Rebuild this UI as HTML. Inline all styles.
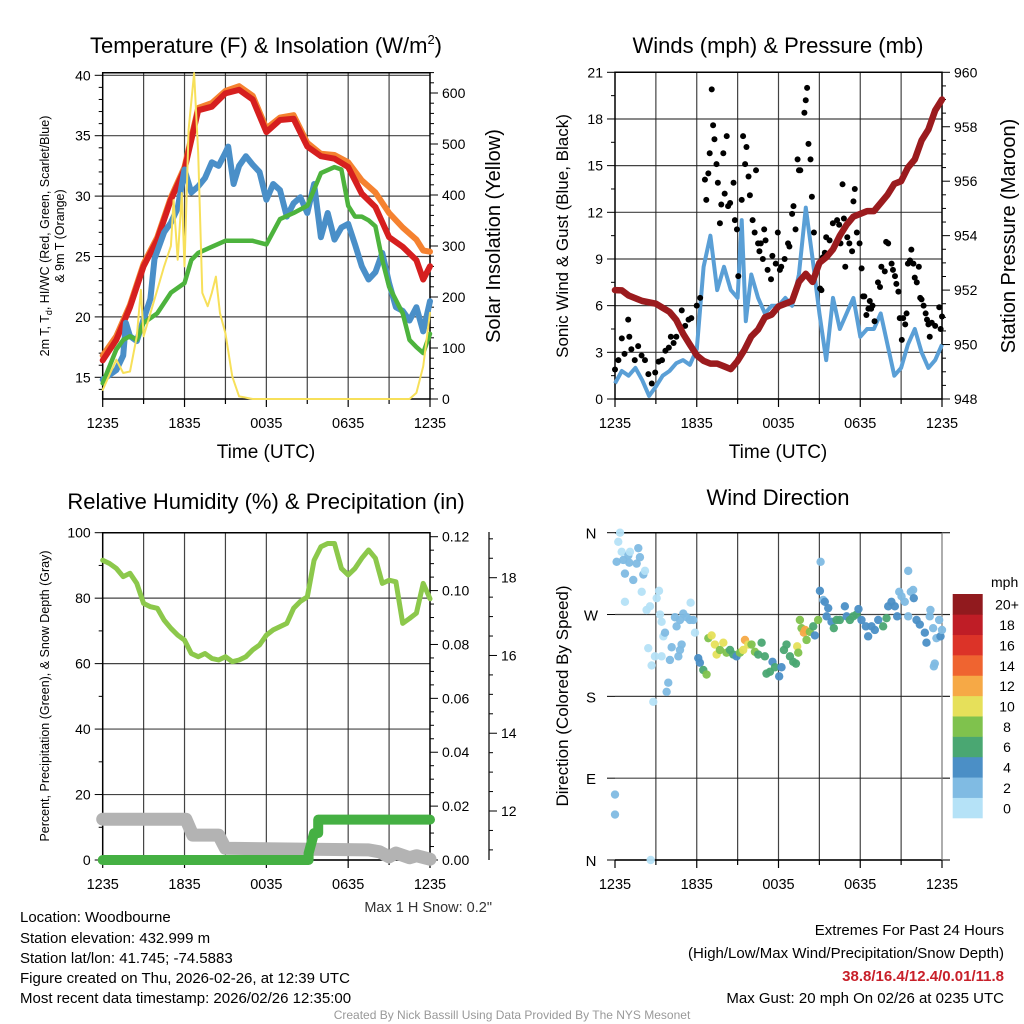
<!DOCTYPE html>
<html><head><meta charset="utf-8"><style>
html,body{margin:0;padding:0;background:#fff;}
svg{display:block;font-family:"Liberation Sans",Arial,sans-serif;}
</style></head><body>
<svg id="chart" width="1024" height="1024" viewBox="0 0 1024 1024" xmlns="http://www.w3.org/2000/svg">
<rect x="0" y="0" width="1024" height="1024" fill="#fff"/>
<text x="266" y="53" font-size="22" text-anchor="middle">Temperature (F) &amp; Insolation (W/m<tspan font-size="13" dy="-9">2</tspan><tspan dy="9">)</tspan></text>
<text x="778" y="53" font-size="22" text-anchor="middle">Winds (mph) &amp; Pressure (mb)</text>
<text x="266" y="509" font-size="22" text-anchor="middle">Relative Humidity (%) &amp; Precipitation (in)</text>
<text x="778" y="505" font-size="22" text-anchor="middle">Wind Direction</text>
<text transform="translate(49,236) rotate(-90)" font-size="12.5" text-anchor="middle">2m T, T<tspan font-size="9" dy="3">d</tspan><tspan dy="-3">, HI/WC (Red, Green, Scarlet/Blue)</tspan></text>
<text transform="translate(64,236) rotate(-90)" font-size="12.5" text-anchor="middle">&amp; 9m T (Orange)</text>
<text transform="translate(500,236) rotate(-90)" font-size="20" text-anchor="middle">Solar Insolation (Yellow)</text>
<text x="266" y="458" font-size="19" text-anchor="middle">Time (UTC)</text>
<text transform="translate(568,236) rotate(-90)" font-size="17" text-anchor="middle">Sonic Wind &amp; Gust (Blue, Black)</text>
<text transform="translate(1015,236) rotate(-90)" font-size="20" text-anchor="middle">Station Pressure (Maroon)</text>
<text x="778" y="458" font-size="19" text-anchor="middle">Time (UTC)</text>
<text transform="translate(49,696) rotate(-90)" font-size="12.5" text-anchor="middle">Percent, Precipitation (Green), &amp; Snow Depth (Gray)</text>
<text transform="translate(568,696) rotate(-90)" font-size="17" text-anchor="middle">Direction (Colored By Speed)</text>
<text x="492" y="912" font-size="14.5" text-anchor="end" fill="#333">Max 1 H Snow: 0.2"</text>
<g font-size="15">
<text x="20" y="922">Location: Woodbourne</text>
<text x="20" y="943">Station elevation: 432.999 m</text>
<text x="20" y="963">Station lat/lon: 41.745; -74.5883</text>
<text x="20" y="983">Figure created on Thu, 2026-02-26, at 12:39 UTC</text>
<text x="20" y="1003">Most recent data timestamp: 2026/02/26 12:35:00</text>
</g>
<g font-size="15" text-anchor="end">
<text x="1004" y="935">Extremes For Past 24 Hours</text>
<text x="1004" y="958">(High/Low/Max Wind/Precipitation/Snow Depth)</text>
<text x="1004" y="981" fill="#c8202a" font-weight="bold">38.8/16.4/12.4/0.01/11.8</text>
<text x="1004" y="1003">Max Gust: 20 mph On 02/26 at 0235 UTC</text>
</g>
<text x="512" y="1019" font-size="12" fill="#999" text-anchor="middle">Created By Nick Bassill Using Data Provided By The NYS Mesonet</text>
</svg>
<script>
// ---------- DATA ----------
const xTickLabels = ["1235","1835","0035","0635","1235"];
const tempHours = [0,1,2,3,4,5,6,7,8,9,10,11,12,13,14,15,16,17,18,19,20,21,22,23,23.5,24];
const redTemp = [16.4,18.1,20.8,24.2,26.4,29.7,32.2,37.1,37.4,38.5,38.8,38.0,35.3,36.3,36.4,34.1,33.3,33.1,32.4,30.2,29.1,26.6,25.8,24.7,23.1,24.2];
const orangeTemp = [16.8,18.4,21.0,24.4,26.6,29.9,32.4,37.3,37.7,38.7,39.1,38.3,35.6,36.5,36.7,34.4,33.5,33.4,32.8,31.3,30.3,28.6,27.4,26.4,25.5,25.4];
const blueHours = [0,0.5,1,1.5,1.7,2,2.5,3,3.5,3.8,4.5,5,5.5,6,6.5,7,7.5,8,8.5,9,9.2,9.6,10,10.5,11,11.5,12,12.5,13,13.5,14,14.5,15,15.5,16,16.5,17,17.5,18,18.5,19,19.5,20,20.5,21,21.5,22,22.5,23,23.5,24];
const blueTemp = [14.8,15.2,15.6,16.8,19.5,18.4,18.0,19.8,21.5,24.8,27.0,27.8,29.0,32.2,30.3,30.8,31.5,32.8,32.5,33.6,34.1,31.0,32.5,33.3,32.6,32.0,29.7,31.0,30.5,28.3,29.4,29.9,28.6,31.0,26.6,28.6,26.4,27.4,27.7,26.0,24.2,23.1,23.7,25.3,22.8,20.8,20.5,19.7,20.8,18.8,21.3];
const greenHours = [0,1,1.5,2,2.5,3,4,5,6,6.5,7,8,9,10,11,12,13,14,15,16,17,17.5,18,18.5,19,19.5,20,20.5,21,22,22.5,23,23.5,24];
const greenTemp = [14.5,17.3,18.1,18.4,18.1,19.5,20.3,22.0,22.8,24.7,25.3,25.8,26.3,26.3,26.3,26.0,28.1,28.6,29.2,31.9,32.4,32.2,29.2,28.3,28.3,28.0,27.5,24.7,22.5,20.3,18.1,17.5,17.0,18.6];
const solarHours = [0,1,1.5,2,2.5,2.8,3,3.5,4,4.5,5,5.2,5.5,5.8,6,6.3,6.7,7,7.3,7.7,8,8.3,8.6,9,9.5,10,11,22.5,23,23.5,24];
const solarVals = [18,77,51,54,123,214,123,168,214,260,300,390,273,404,260,528,639,482,208,182,208,240,168,129,44,5,0,0,12,64,169];
const windHours = [0,0.5,1,1.5,2,2.5,3,3.5,4,4.5,5,5.5,6,6.5,7,7.5,8,8.5,9,9.3,9.6,10,10.5,11,11.5,12,12.5,13,13.5,14,14.5,15,15.5,16,16.5,17,17.5,18,18.5,19,19.5,20,20.5,21,21.5,22,22.5,23,23.5,24];
const windVals = [1.0,1.8,1.5,2.0,1.2,0.2,0.8,1.5,1.8,2.3,2.5,2.2,3.2,8.5,10.5,7.0,8.5,7.0,6.5,11.5,5.0,8.0,6.5,5.5,6.0,6.0,6.5,6.0,8.0,12.3,9.0,5.5,2.5,6.5,4.5,5.5,6.5,4.0,4.5,4.5,5.5,3.5,1.5,2.0,3.5,4.5,3.0,2.0,2.5,3.5];
const gustHours = [0,0.25,0.5,0.7,0.97,1.05,1.2,1.45,1.7,1.95,2.2,2.45,2.7,2.95,3.2,3.45,3.7,3.95,4.1,4.3,4.5,4.9,5.15,5.4,5.6,6.0,6.25,6.6,6.7,6.85,6.95,7.1,7.2,7.3,7.45,7.55,7.7,7.8,7.95,8.05,8.2,8.3,8.45,8.7,8.8,8.95,9.05,9.3,9.4,9.55,9.65,9.8,9.9,10.1,10.25,10.35,10.5,10.6,10.7,10.85,10.95,11.05,11.2,11.45,11.55,11.8,11.95,12.1,12.2,12.45,12.7,12.8,13.0,13.1,13.25,13.4,13.5,13.6,13.9,14.0,14.1,14.2,14.35,14.45,14.6,14.8,15.05,15.15,15.25,15.4,15.5,15.75,15.99,16.2,16.3,16.45,16.55,16.7,16.8,16.9,17.05,17.2,17.4,17.5,17.6,17.75,17.95,18.1,18.2,18.3,18.45,18.6,18.7,18.8,18.9,19.05,19.3,19.45,19.55,19.8,19.9,20.05,20.3,20.4,20.55,20.65,20.8,20.9,21.05,21.15,21.3,21.4,21.5,21.65,21.75,21.9,22.0,22.15,22.3,22.4,22.5,22.65,22.8,22.9,23.0,23.1,23.25,23.5,23.8,23.9,24.0];
const gustVals = [1.9,2.5,3.9,2.9,5.1,4.0,3.2,2.5,3.4,2.8,2.5,1.6,1.0,1.7,2.4,2.5,3.1,3.3,4.0,3.6,4.0,5.7,4.7,5.1,5.2,6.0,6.5,14.1,12.8,14.5,15.8,19.9,17.6,16.7,15.1,13.9,11.3,12.5,15.8,13.2,16.9,12.4,12.6,13.9,11.5,10.9,7.9,12.8,16.9,15.1,16.2,14.3,13.1,11.5,10.7,14.7,10.0,9.5,10.0,9.0,10.9,10.2,8.3,7.7,9.2,8.7,10.7,8.3,8.5,9.0,10.0,9.8,11.9,12.4,10.9,15.4,14.7,14.7,18.4,19.2,20.0,16.4,15.4,13.0,10.7,8.3,7.1,7.0,9.1,9.4,10.4,10.2,11.3,10.0,11.5,11.2,10.0,13.8,11.6,8.5,10.4,10.0,9.5,12.7,13.5,10.7,10.0,8.4,6.6,6.6,5.4,5.8,6.3,5.8,6.0,5.0,7.5,7.2,8.5,8.2,10.1,10.0,8.7,8.3,7.9,7.4,6.9,5.2,3.8,5.2,4.8,5.5,8.7,8.9,9.6,8.7,7.8,7.5,8.5,6.5,6.4,6.0,5.5,5.1,4.8,4.0,4.9,4.7,5.9,4.5,5.3];
const pressHours = [0,0.5,1,1.5,2,3,3.5,4,4.5,5,5.5,6,6.5,7,7.5,8,8.5,9,9.5,10,10.5,11,11.5,12,12.5,13,13.5,14,14.5,15,15.5,16,16.5,17,17.5,18,18.5,19,19.5,20,20.5,21,21.5,22,22.5,23,23.5,24];
const pressVals = [952.0,951.99,951.8,951.7,951.6,951.5,951.35,951.2,950.9,950.4,950.0,949.6,949.4,949.3,949.3,949.2,949.1,949.4,949.8,950.3,950.55,951.0,951.1,951.4,951.5,951.6,952.3,952.6,952.3,953.0,953.2,953.5,954.0,954.4,954.7,954.8,954.9,954.9,955.2,955.5,955.9,956.0,956.5,956.8,957.5,957.9,958.6,959.0];
const rhHours = [0,0.5,1,1.5,2,2.5,3,3.5,4,4.5,5,5.5,6,6.5,7,7.5,8,8.5,9,9.5,10,10.5,11,11.5,12,12.5,13,13.5,14,14.5,15,15.5,16,16.5,17,17.5,18,18.5,19,19.5,20,20.5,21,21.5,22,22.5,23,23.5,24];
const rhVals = [91.6,90.6,89.1,86.6,87.6,84.5,78.4,77.4,76.9,73.3,70.8,68.7,67.2,63.1,62.1,63.1,61.6,61.1,62.1,60.6,61.1,62.1,64.2,65.7,68.7,70.3,71.3,72.3,76.9,79.0,80.4,91.6,95.7,96.7,96.7,89.1,87.1,89.1,92.2,94.7,92.2,84.5,85.5,85.0,72.3,73.8,75.4,84.5,79.8];
const precipHours = [0,15.1,15.1,15.5,15.8,15.8,24];
const precipVals = [0,0,0.0025,0.01,0.01,0.015,0.015];
const snowHours = [0,6.1,6.6,8.5,9.0,19.5,20.3,21.0,21.5,22.5,23.0,24];
const snowVals = [11.79,11.79,11.38,11.38,11.04,11.0,10.95,10.82,10.92,10.8,10.85,10.76];
const dirHours = [0.37,0.24,0.12,0.49,0.61,0.98,1.05,0.73,1.1,1.34,1.71,1.59,1.83,2.08,2.2,1.96,0.73,2.32,2.57,3.06,3.23,3.3,3.42,3.55,3.67,2.44,2.69,2.93,3.42,4.03,4.16,3.91,3.79,2.81,0,0,2.62,4.4,4.52,4.77,4.89,4.77,4.65,5.01,5.26,5.5,5.75,5.55,5.87,6.11,6.23,6.48,6.72,6.85,7.09,7.33,7.46,7.7,7.95,8.19,8.44,8.68,8.92,9.17,9.41,9.54,9.78,10.02,10.27,10.51,10.76,11.0,11.12,11.37,11.56,11.74,12.05,12.22,12.4,12.59,12.84,13.08,13.28,13.37,13.45,13.57,13.69,13.86,13.96,14.06,14.3,14.55,14.67,14.91,15.09,15.04,15.28,15.4,15.65,15.53,15.89,16.06,16.26,16.5,16.87,17.0,17.24,17.48,17.73,17.87,18.09,18.41,18.58,18.83,19.07,19.32,19.68,19.93,20.05,20.29,20.54,20.71,20.86,21.03,21.27,21.52,21.71,21.93,21.52,22.13,22.37,22.74,22.86,23.15,23.1,23.35,23.47,23.4,23.59,23.79,23.89,24,21.88];
const dirDeg = [360,350,328,339,330,335,327,315,339,308,343,326,333,314,318,295,284,275,279,288,296,270,262,246,250,233,214,224,224,220,234,195,185,174,72,50,0,267,257,264,237,231,224,271,267,264,264,283,250,222,217,209,204,244,247,237,226,231,239,228,231,226,224,228,231,242,237,237,229,226,239,224,205,207,218,212,202,212,231,237,224,218,216,235,228,264,255,250,253,242,251,257,247,264,328,296,286,284,277,268,262,255,264,264,279,268,264,268,270,276,264,257,246,257,253,264,257,266,279,284,279,268,295,290,284,318,295,288,268,264,259,250,239,275,268,255,216,213,244,264,246,253,297];
const dirSpeed = [1,1,3,1,2,3,3,2,1,3,3,3,2,3,1,1,1,1,1,1,1,1,1,1,2,1,1,1,1,2,3,3,3,1,2,2,1,3,3,2,3,3,3,2,2,2,2,1,1,4,4,6,8,9,10,10,10,8,10,8,6,6,5,8,10,12,10,8,8,6,6,6,6,6,4,6,4,4,6,6,6,6,6,10,8,8,8,12,12,8,8,6,4,8,3,4,3,4,4,4,4,6,6,6,4,4,6,6,6,4,4,4,4,4,4,4,6,6,4,4,4,4,3,2,2,3,3,4,3,4,4,4,4,3,3,3,3,2,3,2,4,3,2];
const speedLabels = ["0","2","4","6","8","10","12","14","16","18","20+"];
const speedColors = ["#b5e2f7","#80bbe3","#4b8fc6","#4aa772","#7fc24d","#e6e05a","#f6a946","#ef6430","#dc3328","#bf1d26","#911a1e"];

// ---------- HELPERS ----------
const NS = "http://www.w3.org/2000/svg";
const svg = document.getElementById("chart");
function mk(tag, attrs, parent) {
  const e = document.createElementNS(NS, tag);
  for (const k in attrs) e.setAttribute(k, attrs[k]);
  (parent || svg).appendChild(e);
  return e;
}
function scale(d0, d1, r0, r1) { return v => r0 + (v - d0) * (r1 - r0) / (d1 - d0); }
function linePath(xs, ys, fx, fy) {
  return xs.map((h, i) => (i ? "L" : "M") + fx(h).toFixed(1) + "," + fy(ys[i]).toFixed(1)).join(" ");
}

function panelFrame(name, x0, x1, y0, y1, hGridVals, fy, frameRight) {
  const g = mk("g", {});
  
  
  const fx = scale(0, 24, x0, x1);
  for (let h = 3; h < 24; h += 3) {
    const l = mk("line", {x1: fx(h), x2: fx(h), y1: y0, y2: y1, stroke: "#222", "stroke-width": 1.2, "stroke-opacity": 0.85}, g);
    
    
  }
  hGridVals.forEach(v => {
    const l = mk("line", {x1: x0, x2: x1, y1: fy(v), y2: fy(v), stroke: "#222", "stroke-width": 1.2, "stroke-opacity": 0.85}, g);
    
    
  });
  for (let h = 0; h <= 24; h += 3) {
    const t = mk("line", {x1: fx(h), x2: fx(h), y1: y1, y2: y1 + (h % 6 === 0 ? 8 : 5), stroke: "#000", "stroke-width": 1.2}, g);
    
    
  }
  xTickLabels.forEach((lab, i) => {
    const t = mk("text", {x: fx(i * 6), y: y1 + 29, "font-size": 14.5, "text-anchor": "middle"}, g);
    t.textContent = lab;
    
    
  });
  const r = mk("path", {d: `M${x0},${y0} L${x1},${y0} ${frameRight ? `L${x1},${y1}` : `M${x1},${y1}`} L${x0},${y1} Z`, fill: "none", stroke: "#000", "stroke-width": 1.5}, g);
  
  
  return fx;
}
function yAxis(name, x, fy, min, max, majStep, minStep, side, fmt, y0, y1) {
  const g = mk("g", {});
  
  
  const dir = side === "left" ? -1 : 1;
  for (let v = min; v <= max + 1e-9; v += minStep) {
    const y = fy(v);
    if (y < y0 - 0.5 || y > y1 + 0.5) continue;
    const isMaj = Math.abs(v / majStep - Math.round(v / majStep)) < 1e-6;
    const t = mk("line", {x1: x, x2: x + dir * (isMaj ? 8 : 4), y1: y, y2: y, stroke: "#000", "stroke-width": 1}, g);
    
    
    if (isMaj) {
      const lab = mk("text", {x: x + dir * 12, y: y + 5, "font-size": 14, "text-anchor": side === "left" ? "end" : "start"}, g);
      lab.textContent = fmt(v);
      
      
    }
  }
}

// ---------- PANEL 1: TEMPERATURE ----------
(function () {
  const x0 = 102.7, x1 = 430, y0 = 72.7, y1 = 399;
  const fyT = scale(40, 15, 75.3, 377.3);
  const fyW = scale(0, 600, 399, 93);
  const fx = panelFrame("temperature", x0, x1, y0, y1, [15, 20, 25, 30, 35, 40], fyT, true);
  yAxis("temperature-left-axis", x0, fyT, 14, 40, 5, 1, "left", v => String(v), y0, y1);
  yAxis("insolation-right-axis", x1, fyW, 0, 640, 100, 20, "right", v => String(v), y0, y1);
  const series = [
    ["orange-9m-temp-line", tempHours, orangeTemp, "#f58230", 6, fyT],
    ["red-2m-temp-line", tempHours, redTemp, "#d61f1f", 6, fyT],
    ["blue-wind-chill-line", blueHours, blueTemp, "#4a8fc8", 6, fyT],
    ["green-dewpoint-line", greenHours, greenTemp, "#4db33d", 4.5, fyT],
    ["yellow-insolation-line", solarHours, solarVals, "#f7e05a", 2, fyW]
  ];
  series.forEach(s => {
    const p = mk("path", {d: linePath(s[1], s[2], fx, s[5]), fill: "none", stroke: s[3], "stroke-width": s[4], "stroke-linejoin": "round", "stroke-linecap": "round"});
    
    
  });
})();

// ---------- PANEL 2: WINDS ----------
(function () {
  const x0 = 615, x1 = 942, y0 = 72.3, y1 = 399;
  const fyV = scale(0, 21, 399, 72.3);
  const fyP = scale(948, 960, 399, 72.3);
  const fx = panelFrame("winds", x0, x1, y0, y1, [0, 3, 6, 9, 12, 15, 18, 21], fyV, true);
  yAxis("wind-left-axis", x0, fyV, 0, 21, 3, 1.5, "left", v => String(v), y0, y1);
  yAxis("pressure-right-axis", x1, fyP, 948, 960, 2, 0.5, "right", v => String(v), y0, y1);
  const w = mk("path", {d: linePath(windHours, windVals, fx, fyV), fill: "none", stroke: "#5a9fd6", "stroke-width": 4, "stroke-linejoin": "round"});
  
  
  const gg = mk("g", {});
  
  
  gustHours.forEach((h, i) => {
    const c = mk("circle", {cx: fx(h), cy: fyV(gustVals[i]), r: 3, fill: "#000"}, gg);
    
    
  });
  const p = mk("path", {d: linePath(pressHours, pressVals, fx, fyP), fill: "none", stroke: "#9b1b1e", "stroke-width": 6.5, "stroke-linejoin": "round", "stroke-linecap": "round"});
  
  
})();

// ---------- PANEL 3: HUMIDITY ----------
(function () {
  const x0 = 102.7, x1 = 430, y0 = 532.7, y1 = 860;
  const fyR = scale(0, 100, 860, 532.7);
  const fyIn = scale(0, 0.12, 860, 536.7);
  const fyS = scale(12, 18, 811, 577.7);
  const fx = panelFrame("humidity", x0, x1, y0, y1, [0, 20, 40, 60, 80, 100], fyR, true);
  yAxis("humidity-left-axis", x0, fyR, 0, 100, 20, 10, "left", v => String(v), y0, y1);
  yAxis("precip-right-axis", x1, fyIn, 0, 0.12, 0.02, 0.005, "right", v => v.toFixed(2), y0, y1);
  const sl = mk("line", {x1: 489, x2: 489, y1: 532, y2: 860, stroke: "#000", "stroke-width": 1.2});
  
  
  yAxis("snow-depth-axis", 489, fyS, 10.5, 19, 2, 0.5, "right", v => String(v), y0, y1);
  const s = mk("path", {d: linePath(snowHours, snowVals, fx, fyS), fill: "none", stroke: "#b3b3b3", "stroke-width": 13, "stroke-linejoin": "round", "stroke-linecap": "round"});
  
  
  const pr = mk("path", {d: linePath(precipHours, precipVals, fx, fyIn), fill: "none", stroke: "#45b043", "stroke-width": 10, "stroke-linejoin": "round", "stroke-linecap": "round"});
  
  
  const rh = mk("path", {d: linePath(rhHours, rhVals, fx, fyR), fill: "none", stroke: "#8cc84b", "stroke-width": 5, "stroke-linejoin": "round", "stroke-linecap": "round"});
  
  
})();

// ---------- PANEL 4: WIND DIRECTION ----------
(function () {
  const x0 = 615, x1 = 942, y0 = 532.7, y1 = 860;
  const fyD = scale(0, 360, 860, 532.7);
  const fx = panelFrame("direction", x0, x1, y0, y1, [0, 90, 180, 270, 360], fyD, false);
  const g = mk("g", {});
  
  
  ["N", "E", "S", "W", "N"].forEach((lab, i) => {
    const y = fyD(i * 90);
    const t = mk("line", {x1: x0 - 8, x2: x0, y1: y, y2: y, stroke: "#000", "stroke-width": 1}, g);
    
    
    const e = mk("line", {x1: x1, x2: x1 + 8, y1: y, y2: y, stroke: "#222", "stroke-width": 1.2}, g);
    
    
    const tx = mk("text", {x: 591, y: y + 6, "font-size": 15, "text-anchor": "middle"}, g);
    tx.textContent = lab;
    
    
  });
  const rl = mk("line", {x1: x1, x2: x1, y1: y0, y2: y1, stroke: "#777", "stroke-width": 1.2}, g);
  
  
  const pg = mk("g", {});
  
  
  dirHours.forEach((h, i) => {
    const bin = Math.min(10, Math.floor(dirSpeed[i] / 2));
    const c = mk("circle", {cx: fx(h), cy: fyD(dirDeg[i]), r: 4.2, fill: speedColors[bin], "fill-opacity": 0.95}, pg);
    
    
  });
  // colorbar
  const cb = mk("g", {});
  
  
  const t = mk("text", {x: 991, y: 587, "font-size": 14}, cb);
  t.textContent = "mph";
  
  
  const top = 594, bot = 818, n = speedColors.length, hgt = (bot - top) / n;
  speedColors.forEach((col, i) => {
    const y = bot - (i + 1) * hgt;
    const r = mk("rect", {x: 952.7, y: y, width: 30, height: hgt + 0.3, fill: col}, cb);
    
    
    const lab = mk("text", {x: 1007, y: y + hgt / 2 + 5.5, "font-size": 14, "text-anchor": "middle"}, cb);
    lab.textContent = speedLabels[i];
    
    
  });
})();
</script>
</body></html>
